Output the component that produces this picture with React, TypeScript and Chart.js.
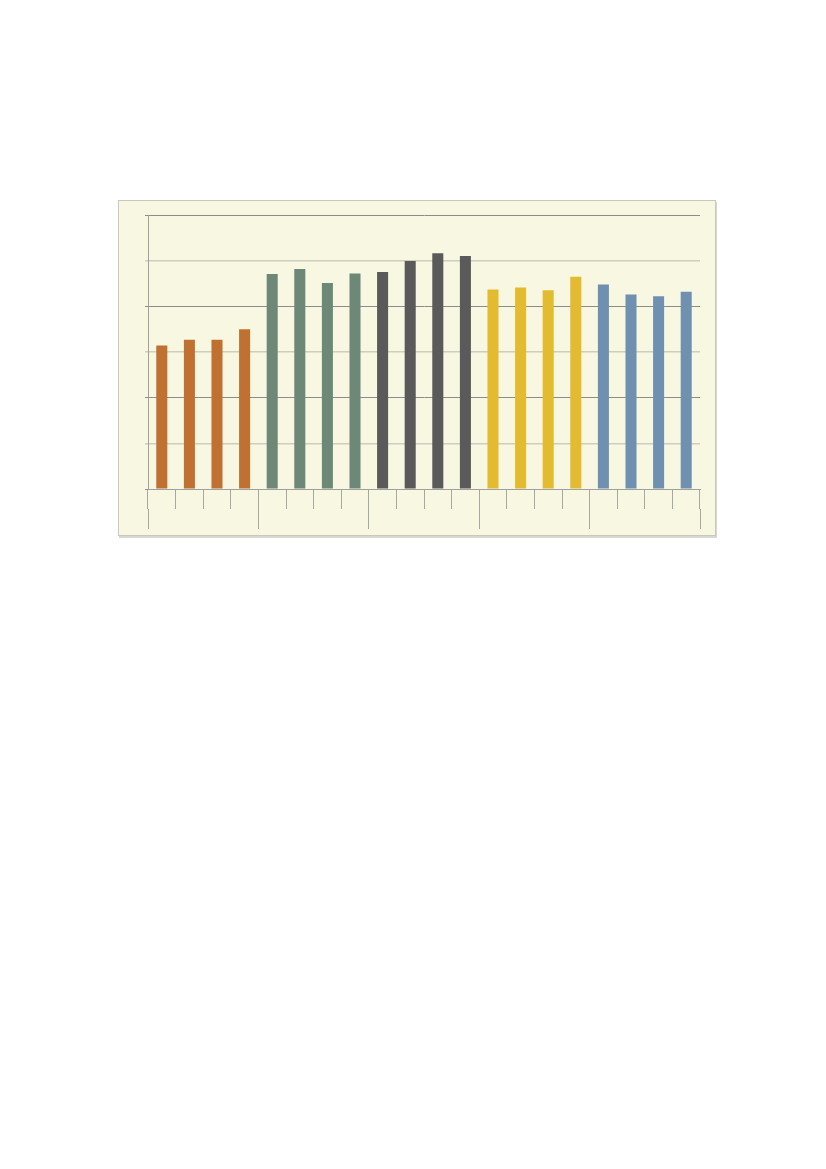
import React, { useEffect, useRef } from "react";
import { Chart, registerables } from "chart.js";

Chart.register(...registerables);

// five groups of four bars, no text shown in the original
const groups = ["A", "B", "C", "D", "E"];
const quarters = ["Q1", "Q2", "Q3", "Q4"];
const groupValues = [
  [31.4, 32.7, 32.7, 35.0],
  [47.1, 48.2, 45.1, 47.2],
  [47.5, 49.9, 51.6, 51.0],
  [43.7, 44.1, 43.5, 46.5],
  [44.8, 42.6, 42.2, 43.2],
];
const groupColors = ["#c07030", "#6e8878", "#5a5a5a", "#e3bb30", "#7090b0"];

const labels = groups.flatMap((g) => quarters.map((q) => `${g} ${q}`));
const values = groupValues.flat();
const barColors = groupColors.flatMap((c) => quarters.map(() => c));

const App: React.FC = () => {
  const chartRef = useRef<HTMLCanvasElement>(null);

  useEffect(() => {
    let chartInstance: Chart | null = null;
    if (chartRef.current) {
      chartInstance = new Chart(chartRef.current, {
        type: "bar",
        data: {
          labels: labels,
          datasets: [
            {
              label: "values",
              data: values,
              backgroundColor: barColors,
              borderWidth: 0,
              barPercentage: 0.4,
              categoryPercentage: 1,
              xAxisID: "x",
            },
          ],
        },
        options: {
          animation: false,
          responsive: true,
          maintainAspectRatio: false,
          layout: { padding: { left: 26, top: 14, right: 15, bottom: 6 } },
          plugins: {
            legend: { display: false },
            tooltip: { enabled: false },
          },
          scales: {
            x: {
              position: "bottom",
              ticks: { display: false },
              grid: {
                offset: true,
                drawOnChartArea: false,
                drawTicks: true,
                tickLength: 20,
                color: "#a8a8a0",
              },
              border: { color: "#a0a0a0" },
            },
            x2: {
              type: "category",
              position: "bottom",
              labels: groups,
              ticks: { display: false },
              grid: {
                offset: true,
                drawOnChartArea: false,
                drawTicks: true,
                tickLength: 20,
                color: "#a8a8a0",
              },
              border: { display: false },
            },
            y: {
              min: 0,
              max: 60,
              ticks: { display: false, stepSize: 10 },
              grid: {
                drawTicks: true,
                tickLength: 3,
                color: (ctx) => (ctx.index % 2 === 0 ? "#8c8c88" : "#cfcdbb"),
                lineWidth: (ctx) => (ctx.index % 2 === 0 ? 1 : 1.5),
              },
              border: { color: "#a0a0a0" },
            },
          },
        },
      });
    }
    return () => {
      if (chartInstance) {
        chartInstance.destroy();
      }
    };
  }, []);

  return (
    <div
      style={{
        position: "absolute",
        left: 118,
        top: 200,
        width: 596,
        height: 334,
        background: "#f8f7e2",
        border: "1px solid #c8c8bc",
        boxShadow: "1px 2px 0 #d8d8d0",
      }}
    >
      <canvas ref={chartRef} />
    </div>
  );
};

export default App;
